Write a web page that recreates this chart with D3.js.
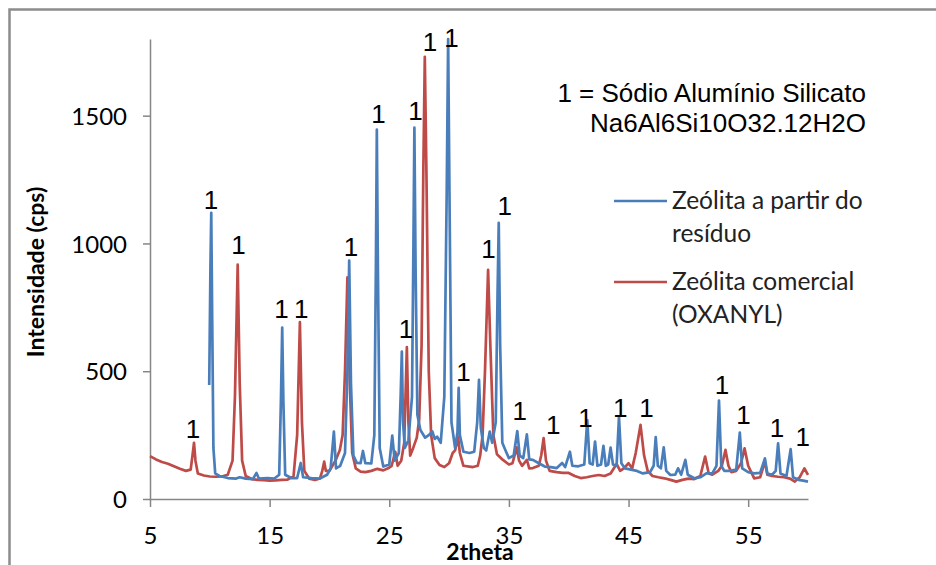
<!DOCTYPE html>
<html>
<head>
<meta charset="utf-8">
<script src="https://cdn.jsdelivr.net/npm/d3@7"></script>
<style>
  body { margin: 0; background: #fff; }
  svg { display: block; }
</style>
</head>
<body>
<div id="chart"></div>
<script>
// 2theta / cps
var residuo = [
  [9.95, 446], [10.05, 900], [10.12, 1120], [10.2, 700], [10.3, 200], [10.45, 100], [10.8, 90], [11.5, 82],
  [12.2, 80], [12.5, 85], [13, 80], [13.6, 78], [13.9, 102], [14.1, 80], [14.8, 82], [15.4, 80], [15.8, 95],
  [15.95, 400], [16.05, 671], [16.15, 380], [16.3, 95], [16.8, 82], [17.3, 82], [17.6, 141], [17.8, 85],
  [18.5, 82], [19.2, 80], [19.8, 95], [20.1, 120], [20.37, 264], [20.55, 120], [20.9, 130], [21.3, 180],
  [21.5, 500], [21.65, 933], [21.8, 450], [22.0, 170], [22.3, 141], [22.6, 140], [22.8, 188], [23.0, 140],
  [23.5, 139], [23.75, 250], [23.88, 900], [23.96, 1445], [24.05, 900], [24.2, 200], [24.5, 127], [25.0, 135],
  [25.25, 248], [25.45, 150], [25.8, 180], [25.95, 400], [26.05, 577], [26.15, 300], [26.3, 200], [26.6, 230],
  [26.9, 400], [27.02, 1000], [27.1, 1453], [27.2, 900], [27.35, 330], [27.6, 270], [28.0, 240], [28.3, 250],
  [28.6, 264], [28.8, 235], [29.0, 244], [29.3, 220], [29.6, 400], [29.8, 1200], [29.92, 1800], [30.05, 1100],
  [30.2, 300], [30.5, 200], [30.7, 260], [30.8, 435], [30.9, 250], [31.2, 185], [31.7, 180], [32.1, 185],
  [32.35, 300], [32.5, 466], [32.65, 280], [32.9, 200], [33.1, 190], [33.4, 264], [33.6, 220], [33.9, 300],
  [34.05, 800], [34.15, 1081], [34.27, 600], [34.45, 220], [34.7, 192], [35.0, 160], [35.4, 170], [35.7, 266],
  [35.9, 170], [36.2, 160], [36.5, 253], [36.7, 155], [37.0, 153], [37.5, 140], [38.0, 127], [38.5, 125],
  [39.0, 121], [39.45, 141], [39.7, 125], [40.1, 185], [40.3, 130], [40.8, 128], [41.3, 135], [41.55, 309],
  [41.75, 140], [42.0, 135], [42.2, 225], [42.4, 130], [42.7, 135], [42.9, 208], [43.1, 130], [43.3, 135],
  [43.5, 201], [43.7, 135], [44.0, 130], [44.2, 322], [44.4, 140], [44.7, 120], [45.2, 115], [45.7, 110],
  [46.2, 100], [46.8, 105], [47.1, 130], [47.27, 242], [47.45, 130], [47.7, 120], [47.94, 202], [48.15, 110],
  [48.5, 94], [48.9, 95], [49.14, 120], [49.4, 95], [49.75, 153], [49.95, 95], [50.5, 81], [51.0, 85],
  [51.5, 100], [52.0, 100], [52.35, 130], [52.56, 385], [52.75, 130], [53.0, 110], [53.5, 110], [54.0, 115],
  [54.3, 260], [54.5, 120], [55.0, 105], [55.5, 100], [56.0, 102], [56.4, 159], [56.6, 100], [57.0, 95],
  [57.3, 110], [57.5, 218], [57.7, 100], [58.2, 90], [58.55, 195], [58.75, 85], [59.2, 75], [59.6, 72], [60.0, 68]
];

var comercial = [
  [5.0, 168], [5.5, 155], [6.0, 145], [6.5, 138], [7.0, 128], [7.5, 118], [8.0, 110], [8.4, 115], [8.55, 170],
  [8.68, 220], [8.8, 150], [9.0, 100], [9.5, 92], [10.0, 88], [10.5, 87], [11.0, 88], [11.5, 95], [11.9, 150],
  [12.1, 400], [12.33, 917], [12.5, 450], [12.7, 150], [13.0, 90], [13.5, 78], [14.0, 75], [14.5, 74], [15.0, 72],
  [15.5, 73], [16.0, 75], [16.5, 76], [17.0, 90], [17.3, 250], [17.53, 692], [17.7, 300], [17.9, 110], [18.3, 80],
  [18.8, 75], [19.2, 80], [19.4, 110], [19.56, 146], [19.7, 110], [20.0, 110], [20.5, 150], [20.87, 192],
  [21.1, 250], [21.3, 500], [21.5, 867], [21.7, 450], [21.9, 180], [22.2, 120], [22.6, 107], [23.0, 105],
  [23.5, 110], [24.0, 118], [24.5, 112], [24.9, 120], [25.2, 130], [25.5, 185], [25.7, 130], [26.0, 150],
  [26.25, 220], [26.47, 594], [26.6, 300], [26.75, 170], [27.0, 200], [27.3, 240], [27.5, 310], [27.7, 600],
  [27.85, 1300], [27.97, 1730], [28.1, 1300], [28.3, 500], [28.5, 250], [28.8, 160], [29.2, 133], [29.6, 125],
  [30.0, 140], [30.3, 180], [30.5, 190], [30.75, 243], [30.9, 180], [31.2, 130], [31.7, 127], [32.0, 125],
  [32.4, 130], [32.6, 170], [32.8, 250], [33.0, 500], [33.26, 897], [33.45, 600], [33.7, 250], [34.0, 175],
  [34.5, 153], [35.0, 135], [35.3, 140], [35.65, 202], [35.85, 150], [36.1, 130], [36.5, 153], [36.7, 120],
  [37.0, 121], [37.5, 130], [37.7, 170], [37.9, 238], [38.1, 150], [38.4, 110], [39.0, 105], [39.5, 102],
  [40.0, 102], [40.5, 90], [41.0, 82], [41.5, 85], [42.0, 90], [42.5, 94], [43.0, 90], [43.5, 100], [44.0, 137],
  [44.3, 110], [44.6, 120], [45.0, 140], [45.3, 120], [45.6, 180], [46.0, 290], [46.3, 170], [46.6, 110],
  [47.0, 90], [47.5, 85], [48.0, 81], [48.5, 75], [49.0, 68], [49.5, 75], [50.0, 80], [50.5, 78], [51.0, 90],
  [51.4, 166], [51.7, 100], [52.0, 95], [52.5, 110], [52.8, 130], [53.1, 192], [53.35, 130], [53.6, 105],
  [54.0, 110], [54.4, 140], [54.7, 198], [55.0, 130], [55.5, 81], [56.0, 85], [56.4, 146], [56.6, 95], [57.0, 90],
  [57.5, 87], [58.0, 85], [58.5, 80], [58.9, 68], [59.3, 85], [59.7, 120], [60.0, 94]
];

// "1" markers (2theta, cps where the label sits)
var peakLabels = [
  [8.59, 239], [10.1, 1135], [12.4, 960], [16.0, 710], [17.65, 710], [21.8, 950], [24.1, 1470], [26.4, 630],
  [27.2, 1485], [28.4, 1755], [30.2, 1770], [31.2, 460], [33.3, 945], [34.65, 1110], [35.9, 310], [38.7, 255],
  [41.4, 283], [44.3, 322], [46.5, 322], [52.8, 410], [54.6, 293], [57.4, 242], [59.55, 208]
];

var xTicks = [5, 15, 25, 35, 45, 55];
var yTicks = [0, 500, 1000, 1500];

var W = 936, H = 565;
var margin = { top: 39, right: 128, bottom: 66, left: 150 };
var width = W - margin.left - margin.right,
	height = H - margin.top - margin.bottom;

var blue = '#4a7ebb', red = '#be4b48', grey = '#868686';

var svg = d3.select('#chart').append('svg').attr('width', W).attr('height', H);

// outer chart frame (right and bottom fall outside the picture)
svg.append('rect')
	.attr('x', 9.5).attr('y', 9.5)
	.attr('width', W + 20).attr('height', H + 20)
	.attr('fill', 'none').attr('stroke', '#8c8c8c').attr('stroke-width', 2.5);

var g = svg.append('g').attr('transform', 'translate(' + margin.left + ',' + margin.top + ')');

var x = d3.scaleLinear().domain([5, 60]).range([0, width]);
var y = d3.scaleLinear().domain([0, 1800]).range([height, 0]);

var xAxis = g.append('g').attr('transform', 'translate(0,' + height + ')')
	.call(d3.axisBottom(x).tickValues(xTicks).tickSize(8).tickSizeOuter(0).tickPadding(20));
var yAxis = g.append('g')
	.call(d3.axisLeft(y).tickValues(yTicks).tickFormat(d3.format('d')).tickSize(7).tickSizeOuter(0).tickPadding(16));

[xAxis, yAxis].forEach(function(a) {
	a.select('.domain').attr('stroke', grey).attr('stroke-width', 1.5);
	a.selectAll('.tick line').attr('stroke', grey).attr('stroke-width', 1.5);
	a.selectAll('.tick text').attr('fill', '#000')
		.style('font-family', 'Lato, sans-serif').style('font-size', '24px');
});
yAxis.selectAll('.tick text').attr('dy', '0.36em');

var line = d3.line()
	.x(function(d) { return x(d[0]); })
	.y(function(d) { return y(d[1]); });

g.append('path').datum(comercial)
	.attr('fill', 'none').attr('stroke', red).attr('stroke-width', 2.7)
	.attr('stroke-linejoin', 'round').attr('d', line);
g.append('path').datum(residuo)
	.attr('fill', 'none').attr('stroke', blue).attr('stroke-width', 2.7)
	.attr('stroke-linejoin', 'round').attr('d', line);

g.selectAll('.plabel').data(peakLabels).enter().append('text')
	.attr('class', 'plabel')
	.attr('x', function(d) { return x(d[0]); })
	.attr('y', function(d) { return y(d[1]); })
	.attr('text-anchor', 'middle')
	.style('font-family', '"Liberation Sans", Arial, sans-serif').style('font-size', '26px')
	.text('1');

// axis titles
svg.append('text').attr('x', 480).attr('y', 560).attr('text-anchor', 'middle')
	.style('font-family', 'Lato, sans-serif').style('font-size', '23px').style('font-weight', 'bold')
	.text('2theta');
svg.append('text').attr('transform', 'translate(44,272) rotate(-90)').attr('text-anchor', 'middle')
	.style('font-family', 'Lato, sans-serif').style('font-size', '23px').style('font-weight', 'bold')
	.text('Intensidade (cps)');

// note
svg.append('text').attr('x', 866).attr('y', 102).attr('text-anchor', 'end')
	.style('font-family', '"Liberation Sans", Arial, sans-serif').style('font-size', '26px')
	.text('1 = Sódio Alumínio Silicato');
svg.append('text').attr('x', 866).attr('y', 132).attr('text-anchor', 'end')
	.style('font-family', '"Liberation Sans", Arial, sans-serif').style('font-size', '26px')
	.text('Na6Al6Si10O32.12H2O');

// legend
var legend = [
	{ color: blue, lines: ['Zeólita a partir do', 'resíduo'], y: 201 },
	{ color: red, lines: ['Zeólita comercial', '(OXANYL)'], y: 282 }
];
legend.forEach(function(l) {
	svg.append('line').attr('x1', 614).attr('x2', 667).attr('y1', l.y).attr('y2', l.y)
		.attr('stroke', l.color).attr('stroke-width', 2.7);
	l.lines.forEach(function(t, i) {
		svg.append('text').attr('x', 672).attr('y', l.y + 8 + i * 33)
			.style('font-family', 'Lato, sans-serif').style('font-size', '24.5px').attr('fill', '#222')
			.text(t);
	});
});
</script>
</body>
</html>
